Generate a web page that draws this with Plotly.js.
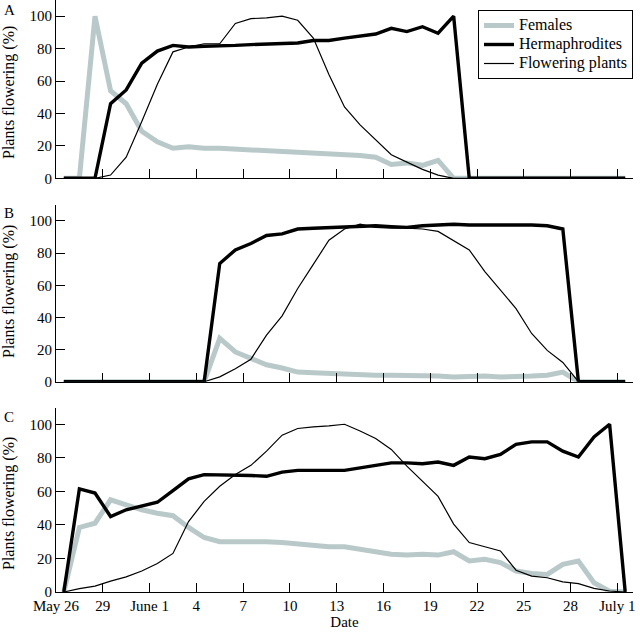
<!DOCTYPE html>
<html>
<head>
<meta charset="utf-8">
<script src="https://cdn.plot.ly/plotly-3.0.1.min.js"></script>
<style>html,body{margin:0;padding:0;background:#fff;}#chart{width:640px;height:632px;}</style>
</head>
<body>
<div id="chart"></div>
<script>
// Days after May 26 (daily observations)
const days = [0.5,1.5,2.5,3.5,4.5,5.5,6.5,7.5,8.5,9.5,10.5,11.5,12.5,13.5,14.5,15.5,16.5,17.5,18.5,19.5,20.5,21.5,22.5,23.5,24.5,25.5,26.5,27.5,28.5,29.5,30.5,31.5,32.5,33.5,34.5,35.5,36.5];
const tickVals = [0,3,6,9,12,15,18,21,24,27,30,33,36];
const tickText = ['May 26','29','June 1','4','7','10','13','16','19','22','25','28','July 1'];
const seriesNames = ['Females','Hermaphrodites','Flowering plants'];
const panelLabels = ['A','B','C'];
const yTitle = 'Plants flowering (%)';

// Panel A
const femalesA = [0,0,100,54,46,29,22.5,18.5,19.5,18.5, 18.5,18,17.5,17,17,16.5,15.5,15,14.5,14, 13,8.5,9.5,8,11,0,0,0,0,0, 0,0,0,0,0,0,0];
const hermA    = [0,0,0,46,54.5,71,78.5,82,81,81.5, 81.5,82,82.5,83,83,83.5,85,85,86.5,87.5, 89,92.5,90.5,93.5,89.5,100,0,0,0,0, 0,0,0,0,0,0,0];
const flowerA  = [0,0,0,2,13,35,58,78,81,83, 83,95.5,98.5,99,100,97.5,86.5,64,44,33, 23.5,14.5,10,5.5,2,0,0,0,0,0, 0,0,0,0,0,0,0];
// Panel B
const femalesB = [0,0,0,0,0,0,0,0,0,0, 27,18.5,14.5,10.5,8.5,6,5.5,5,4.5,4.5, 4,4,4,3.5,3.5,3,3.5,3.5,3,3, 3.5,4,6,0,0,0,0];
const hermB    = [0,0,0,0,0,0,0,0,0,0, 73.5,82,86,91,92,95,95.5,96,96.5,96.5, 97,96.5,96,97,97.5,98,97.5,97.5,98,98, 97.5,97,95,0,0,0,0];
const flowerB  = [0,0,0,0,0,0,0,0,0,0, 3,8,14,29,41,58,73,88,95,98, 96,95.5,95.5,95,93.5,88,82,68.5,57,45.5, 30,19.5,12,0,0,0,0];
// Panel C
const femalesC = [0,38.5,41,55,52,49,47,45.5,38.5,32.5, 30,30,30.5,30,29.5,28.5,28,27,27,25.5, 24,22.5,22,22.5,22,24,18.5,19.5,17.5,12.5, 11,10.5,16.5,18.5,5.5,0.5,0];
const hermC    = [0,61.5,59,45,49,51,53.5,60.5,67.5,70, 70,69.5,69.5,69,71.5,72.5,72.5,72.5,72.5,74, 75.5,77,77,76.5,77.5,75.5,80.5,79.5,82,88, 89.5,89.5,84,80.5,92.5,100,0];
const flowerC  = [0,2,3.5,6.5,9,12.5,17,23,42,54, 63,70,75.5,84,93.5,97.5,98.5,99,100,96, 91.5,85,75,66,57,40.5,29.5,27,24.5,13, 9.5,8.5,6,5,2.2,0.6,0];

const panels = [
  [femalesA, hermA, flowerA],
  [femalesB, hermB, flowerB],
  [femalesC, hermC, flowerC]
];
const styles = [
  {color:'#b9c9c9', width:5},
  {color:'#000000', width:3.4},
  {color:'#000000', width:1.2}
];

const traces = [];
panels.forEach((p, pi) => {
  p.forEach((vals, si) => {
    traces.push({
      type:'scatter', mode:'lines',
      x: days, y: vals,
      name: '<span style="font-size:16px">' + seriesNames[si] + '</span>',
      line: {color: styles[si].color, width: styles[si].width},
      xaxis: pi === 0 ? 'x' : 'x' + (pi+1),
      yaxis: pi === 0 ? 'y' : 'y' + (pi+1),
      showlegend: pi === 0,
      hoverinfo: 'skip'
    });
  });
});

const FONT = 'Liberation Serif, Times New Roman, serif';
const H = 592;
const panelPx = [[178.3, 0], [381.7, 204.9], [592, 407.5]];
function yax(bottomPx, topPx, anchor) {
  return {
    domain: [(H - bottomPx)/H, (H - topPx)/H],
    range: [0,110], anchor: anchor,
    tickvals: [0,20,40,60,80,100],
    ticks: 'inside', ticklen: 9, tickcolor:'#000', tickwidth:1,
    showline: true, linecolor:'#000', linewidth:1,
    showgrid:false, zeroline:false,
    tickfont:{family:FONT, size:15, color:'#000'},
    automargin:false
  };
}
function xax(anchor, labels) {
  return {
    range:[0,37], anchor: anchor,
    tickvals: tickVals, ticktext: tickText,
    ticks:'inside', ticklen:9, tickcolor:'#000', tickwidth:1,
    showline:true, linecolor:'#000', linewidth:1,
    showgrid:false, zeroline:false,
    showticklabels: labels,
    tickfont:{family:FONT, size:15, color:'#000'},
    automargin:false
  };
}

const annotations = [];
panelLabels.forEach((t, i) => {
  annotations.push({
    text:t, xref:'paper', yref:'paper', showarrow:false,
    x:(2-56)/577, xanchor:'left',
    y:(H - [10, 213, 417][i])/H, yanchor:'middle',
    font:{family:FONT, size:15, color:'#000'}
  });
  annotations.push({
    text:yTitle, xref:'paper', yref:'paper', showarrow:false,
    textangle:-90,
    x:(9-56)/577, xanchor:'center',
    y:(H - [92, 291, 503][i])/H, yanchor:'middle',
    font:{family:FONT, size:16, color:'#000'}
  });
});

const layout = {
  width:640, height:632,
  margin:{l:56, r:7, t:0, b:40},
  paper_bgcolor:'#fff', plot_bgcolor:'#fff',
  font:{family:FONT, size:15, color:'#000'},
  xaxis: xax('y', false),
  xaxis2: xax('y2', false),
  xaxis3: Object.assign(xax('y3', true), {title:{text:'Date', font:{family:FONT, size:15, color:'#000'}, standoff:2}}),
  yaxis: yax(panelPx[0][0], panelPx[0][1], 'x'),
  yaxis2: yax(panelPx[1][0], panelPx[1][1], 'x2'),
  yaxis3: yax(panelPx[2][0], panelPx[2][1], 'x3'),
  showlegend:true,
  legend:{
    x:(478-56)/577, y:(H-10)/H, xanchor:'left', yanchor:'top',
    bordercolor:'#000', borderwidth:1, bgcolor:'#fff',
    font:{family:FONT, size:12, color:'#000'},
    tracegroupgap:0
  },
  annotations: annotations
};

Plotly.newPlot('chart', traces, layout, {displayModeBar:false, staticPlot:true});
</script>
</body>
</html>
